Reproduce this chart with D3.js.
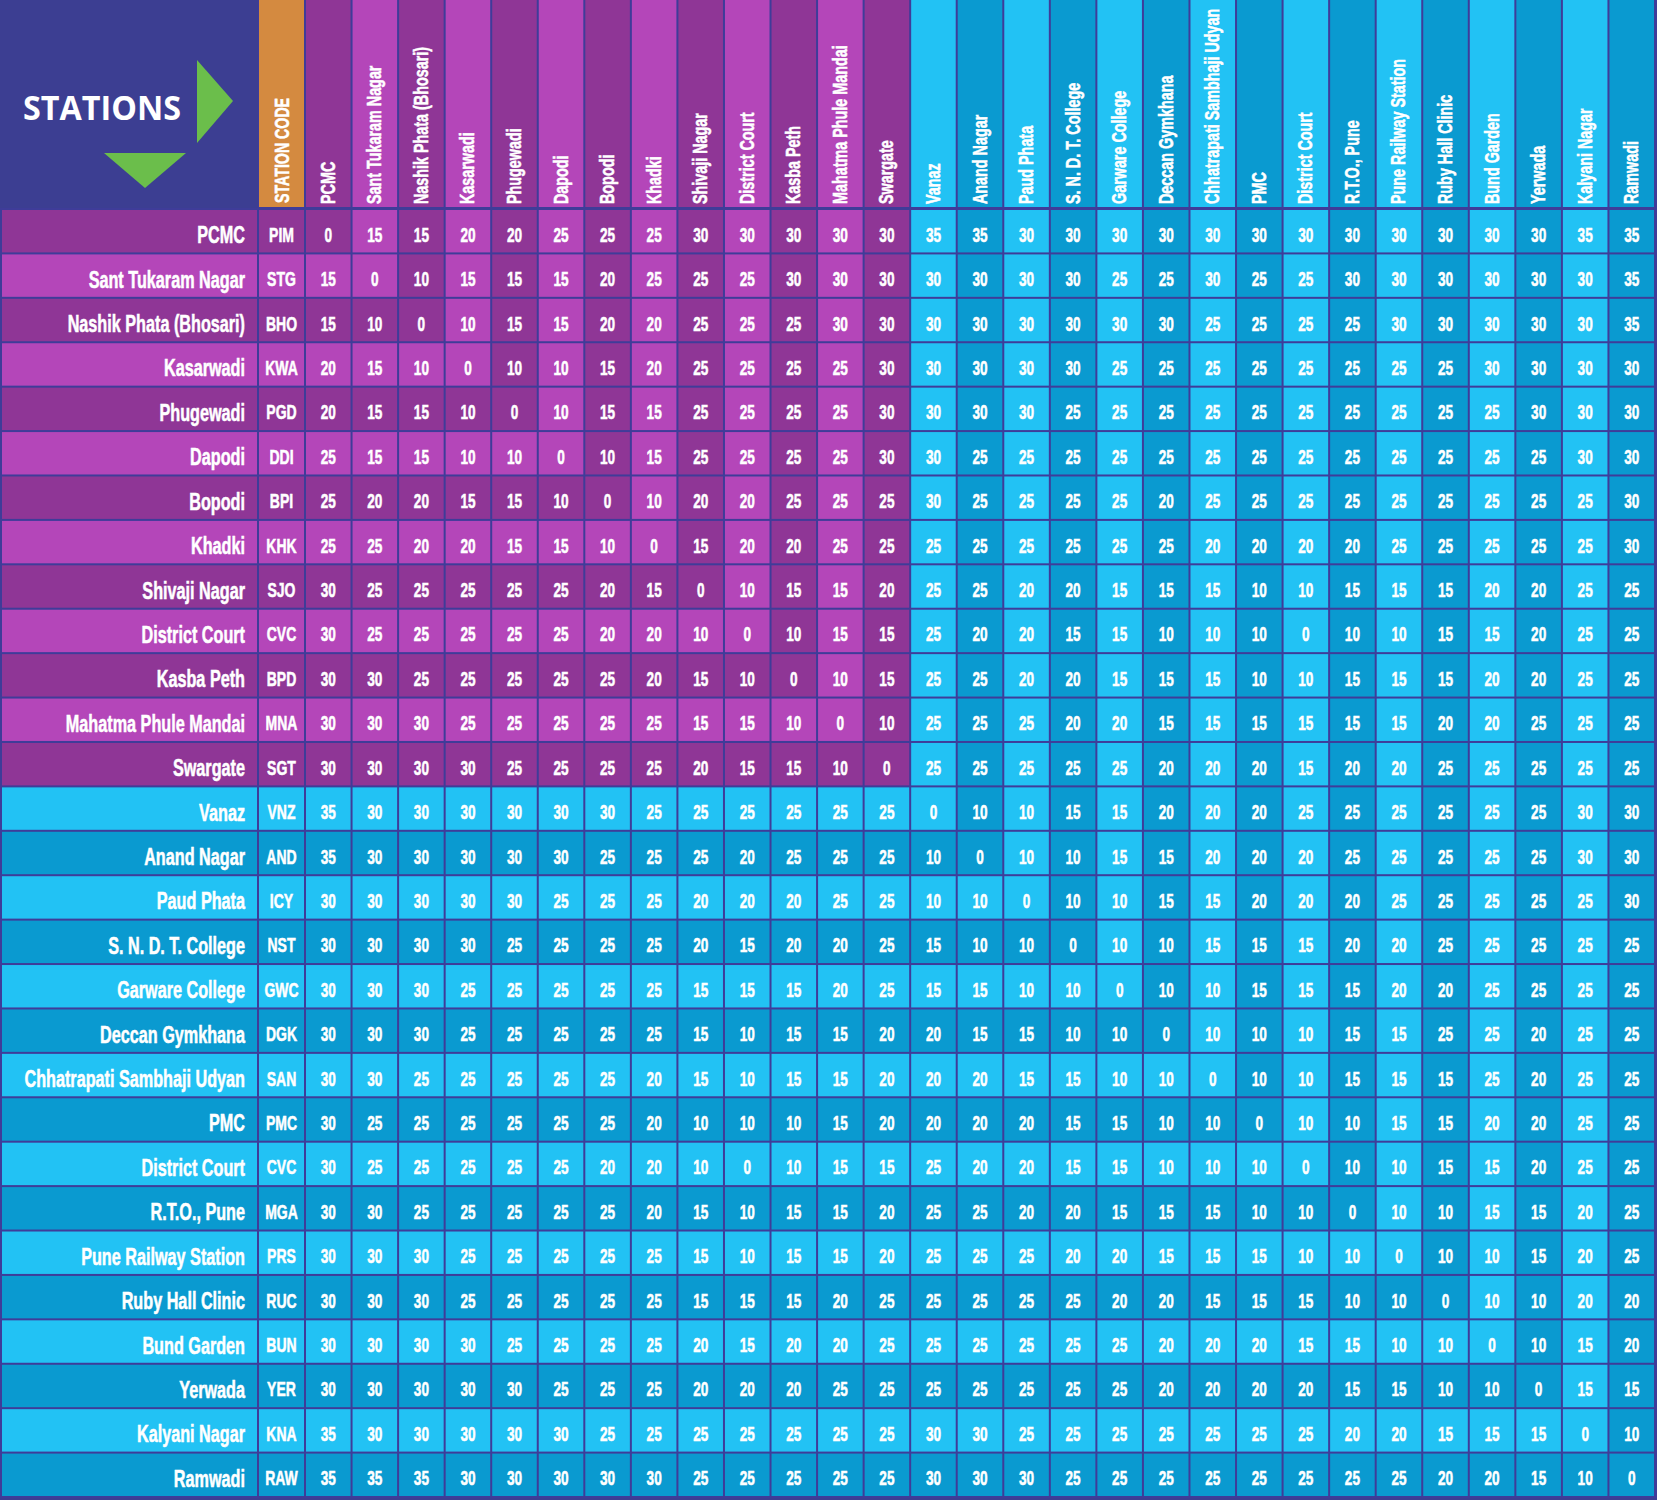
<!DOCTYPE html>
<html><head><meta charset="utf-8">
<script src="https://cdn.jsdelivr.net/npm/d3@7/dist/d3.min.js"></script>
<style>
html,body{margin:0;padding:0;background:#3c3e92;}
svg{display:block;}
</style></head><body>
<svg id="chart" width="1657" height="1500"></svg>
<script>
// ---------- DATA ----------
const stations = ["PCMC","Sant Tukaram Nagar","Nashik Phata (Bhosari)","Kasarwadi","Phugewadi","Dapodi","Bopodi","Khadki","Shivaji Nagar","District Court","Kasba Peth","Mahatma Phule Mandai","Swargate",
  "Vanaz","Anand Nagar","Paud Phata","S. N. D. T. College","Garware College","Deccan Gymkhana","Chhatrapati Sambhaji Udyan","PMC","District Court","R.T.O., Pune","Pune Railway Station","Ruby Hall Clinic","Bund Garden","Yerwada","Kalyani Nagar","Ramwadi"];
const rowCodes = ["PIM","STG","BHO","KWA","PGD","DDI","BPI","KHK","SJO","CVC","BPD","MNA","SGT",
  "VNZ","AND","ICY","NST","GWC","DGK","SAN","PMC","CVC","MGA","PRS","RUC","BUN","YER","KNA","RAW"];
const stationLine = ["purple","purple","purple","purple","purple","purple","purple","purple","purple","purple","purple","purple","purple",
  "aqua","aqua","aqua","aqua","aqua","aqua","aqua","aqua","aqua","aqua","aqua","aqua","aqua","aqua","aqua","aqua"];
const codeHeader = "STATION CODE";
const cornerTitle = "STATIONS";
const fares = [
 [0,15,15,20,20,25,25,25,30,30,30,30,30, 35,35,30,30,30,30,30,30,30,30,30,30,30,30,35,35],
 [15,0,10,15,15,15,20,25,25,25,30,30,30, 30,30,30,30,25,25,30,25,25,30,30,30,30,30,30,35],
 [15,10,0,10,15,15,20,20,25,25,25,30,30, 30,30,30,30,30,30,25,25,25,25,30,30,30,30,30,35],
 [20,15,10,0,10,10,15,20,25,25,25,25,30, 30,30,30,30,25,25,25,25,25,25,25,25,30,30,30,30],
 [20,15,15,10,0,10,15,15,25,25,25,25,30, 30,30,30,25,25,25,25,25,25,25,25,25,25,30,30,30],
 [25,15,15,10,10,0,10,15,25,25,25,25,30, 30,25,25,25,25,25,25,25,25,25,25,25,25,25,30,30],
 [25,20,20,15,15,10,0,10,20,20,25,25,25, 30,25,25,25,25,20,25,25,25,25,25,25,25,25,25,30],
 [25,25,20,20,15,15,10,0,15,20,20,25,25, 25,25,25,25,25,25,20,20,20,20,25,25,25,25,25,30],
 [30,25,25,25,25,25,20,15,0,10,15,15,20, 25,25,20,20,15,15,15,10,10,15,15,15,20,20,25,25],
 [30,25,25,25,25,25,20,20,10,0,10,15,15, 25,20,20,15,15,10,10,10,0,10,10,15,15,20,25,25],
 [30,30,25,25,25,25,25,20,15,10,0,10,15, 25,25,20,20,15,15,15,10,10,15,15,15,20,20,25,25],
 [30,30,30,25,25,25,25,25,15,15,10,0,10, 25,25,25,20,20,15,15,15,15,15,15,20,20,25,25,25],
 [30,30,30,30,25,25,25,25,20,15,15,10,0, 25,25,25,25,25,20,20,20,15,20,20,25,25,25,25,25],
 [35,30,30,30,30,30,30,25,25,25,25,25,25, 0,10,10,15,15,20,20,20,25,25,25,25,25,25,30,30],
 [35,30,30,30,30,30,25,25,25,20,25,25,25, 10,0,10,10,15,15,20,20,20,25,25,25,25,25,30,30],
 [30,30,30,30,30,25,25,25,20,20,20,25,25, 10,10,0,10,10,15,15,20,20,20,25,25,25,25,25,30],
 [30,30,30,30,25,25,25,25,20,15,20,20,25, 15,10,10,0,10,10,15,15,15,20,20,25,25,25,25,25],
 [30,30,30,25,25,25,25,25,15,15,15,20,25, 15,15,10,10,0,10,10,15,15,15,20,20,25,25,25,25],
 [30,30,30,25,25,25,25,25,15,10,15,15,20, 20,15,15,10,10,0,10,10,10,15,15,25,25,20,25,25],
 [30,30,25,25,25,25,25,20,15,10,15,15,20, 20,20,15,15,10,10,0,10,10,15,15,15,25,20,25,25],
 [30,25,25,25,25,25,25,20,10,10,10,15,20, 20,20,20,15,15,10,10,0,10,10,15,15,20,20,25,25],
 [30,25,25,25,25,25,20,20,10,0,10,15,15, 25,20,20,15,15,10,10,10,0,10,10,15,15,20,25,25],
 [30,30,25,25,25,25,25,20,15,10,15,15,20, 25,25,20,20,15,15,15,10,10,0,10,10,15,15,20,25],
 [30,30,30,25,25,25,25,25,15,10,15,15,20, 25,25,25,20,20,15,15,15,10,10,0,10,10,15,20,25],
 [30,30,30,25,25,25,25,25,15,15,15,20,25, 25,25,25,25,20,20,15,15,15,10,10,0,10,10,20,20],
 [30,30,30,30,25,25,25,25,20,15,20,20,25, 25,25,25,25,25,20,20,20,15,15,10,10,0,10,15,20],
 [30,30,30,30,30,25,25,25,20,20,20,25,25, 25,25,25,25,25,20,20,20,20,15,15,10,10,0,15,15],
 [35,30,30,30,30,30,25,25,25,25,25,25,25, 30,30,25,25,25,25,25,25,25,20,20,15,15,15,0,10],
 [35,35,35,30,30,30,30,30,25,25,25,25,25, 30,30,30,25,25,25,25,25,25,25,25,20,20,15,10,0]
];

// ---------- LAYOUT / STYLE ----------
const W = 1657, H = 1500;
const labelRight = 258, codeRight = 305, headerH = 209, gridBottom = 1497, gridRight = 1655;
const FF = "'Liberation Sans',Arial,Helvetica,sans-serif";
const palette = { purple: ["#8f3696", "#b446b9"], aqua: ["#0a9ad0", "#22c2f4"] };
const NAVY = "#3c3e92", LINE = "#3f3c99", ORANGE = "#d48a40", GREEN = "#6bbe4b";

const idx = d3.range(stations.length);
const x = d3.scaleBand().domain(idx).range([codeRight, gridRight]);
const y = d3.scaleBand().domain(idx).range([headerH, gridBottom]);
const bw = x.bandwidth(), bh = y.bandwidth();

const svg = d3.select("#chart");
svg.append("rect").attr("width", W).attr("height", H).attr("fill", NAVY);
svg.append("rect").attr("x", 0).attr("y", headerH - 1).attr("width", gridRight + 2).attr("height", gridBottom - headerH + 2).attr("fill", LINE);
svg.append("rect").attr("x", labelRight).attr("y", 0).attr("width", gridRight - labelRight + 2).attr("height", headerH).attr("fill", LINE);

const shadeOf = (line, k) => palette[line][k % 2 === 0 ? 0 : 1];
const boldText = sel => sel.attr("font-family", FF).attr("font-weight", 700).attr("fill", "#fff")
  .attr("stroke", "#fff").attr("stroke-width", 0.55).attr("paint-order", "stroke");

// ---- corner block ----
svg.append("rect").attr("x", 0).attr("y", 0).attr("width", labelRight).attr("height", headerH - 1).attr("fill", NAVY);
svg.append("text").attr("x", 23).attr("y", 120)
  .attr("font-family", "'Open Sans','Noto Sans',sans-serif").attr("font-weight", 700)
  .attr("font-size", 34).attr("fill", "#fff")
  .attr("textLength", 158).attr("lengthAdjust", "spacingAndGlyphs")
  .text(cornerTitle);
svg.append("polygon").attr("points", "197,60 197,143 233,101").attr("fill", GREEN);
svg.append("polygon").attr("points", "104,153 186,153 145,188").attr("fill", GREEN);

// ---- station code header ----
svg.append("rect").attr("x", labelRight + 1).attr("y", 0).attr("width", codeRight - labelRight - 2).attr("height", headerH - 2).attr("fill", ORANGE);
svg.append("text")
  .attr("transform", `translate(${(labelRight + codeRight) / 2 + 7},203) rotate(-90) scale(0.71,1)`)
  .attr("font-size", 20).call(boldText)
  .text(codeHeader);

// ---- column headers ----
const hdr = svg.append("g").selectAll("g").data(idx).join("g");
hdr.append("rect")
  .attr("x", j => x(j) + 1).attr("y", 0).attr("width", bw - 2).attr("height", headerH - 2)
  .attr("fill", j => shadeOf(stationLine[j], j));
hdr.append("text")
  .attr("transform", j => `translate(${x(j) + bw / 2 + 6.5},204) rotate(-90) scale(0.70,1)`)
  .attr("font-size", 20.5).call(boldText)
  .text(j => stations[j]);

// ---- rows ----
const rows = svg.append("g").selectAll("g").data(idx).join("g");
rows.append("rect")
  .attr("x", 2).attr("y", i => y(i) + 1).attr("width", labelRight - 3).attr("height", bh - 2)
  .attr("fill", i => shadeOf(stationLine[i], i));
rows.append("text")
  .attr("transform", i => `translate(245,${y(i) + bh / 2 + 12}) scale(0.69,1)`)
  .attr("text-anchor", "end")
  .attr("font-size", 23.5).call(boldText)
  .text(i => stations[i]);
rows.append("rect")
  .attr("x", labelRight + 1).attr("y", i => y(i) + 1).attr("width", codeRight - labelRight - 2).attr("height", bh - 2)
  .attr("fill", i => shadeOf(stationLine[i], i));
rows.append("text")
  .attr("transform", i => `translate(${(labelRight + codeRight) / 2},${y(i) + bh / 2 + 10.5}) scale(0.7,1)`)
  .attr("text-anchor", "middle")
  .attr("font-size", 20).call(boldText)
  .text(i => rowCodes[i]);

// ---- cells ----
const cells = [];
idx.forEach(i => idx.forEach(j => cells.push({ i, j, v: fares[i][j] })));
const cellLine = d => (stationLine[d.i] === "purple" && stationLine[d.j] === "purple") ? "purple" : "aqua";
const cg = svg.append("g").selectAll("g").data(cells).join("g");
cg.append("rect")
  .attr("x", d => x(d.j) + 1).attr("y", d => y(d.i) + 1).attr("width", bw - 2).attr("height", bh - 2)
  .attr("fill", d => shadeOf(cellLine(d), Math.max(d.i, d.j)));
cg.append("text")
  .attr("transform", d => `translate(${x(d.j) + bw / 2},${y(d.i) + bh / 2 + 10.5}) scale(0.68,1)`)
  .attr("text-anchor", "middle")
  .attr("font-size", 20).call(boldText)
  .text(d => d.v);
</script>
</body></html>
